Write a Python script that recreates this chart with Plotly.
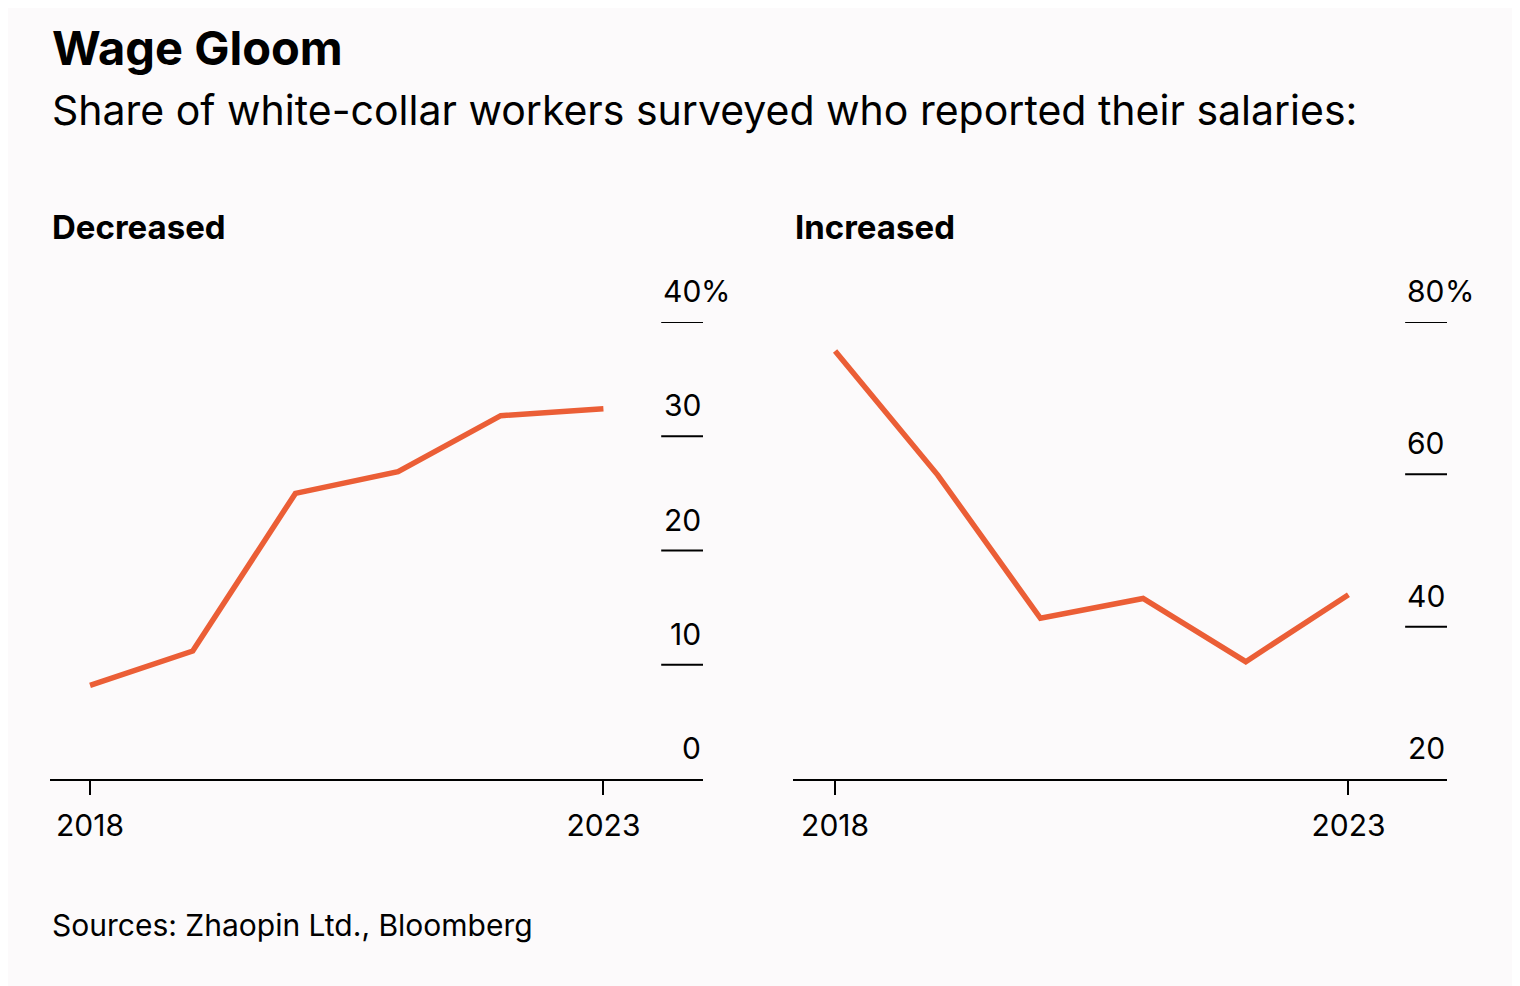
import plotly.graph_objects as go

years = [2018, 2019, 2020, 2021, 2022, 2023]
decreased = [8.2, 11.2, 25.0, 26.9, 31.8, 32.4]
increased = [76.2, 59.9, 41.1, 43.7, 35.4, 44.2]

dec_ticks = [0, 10, 20, 30, 40]
inc_ticks = [20, 40, 60, 80]
x_ticks = [2018, 2023]

title = "Wage Gloom"
subtitle = "Share of white-collar workers surveyed who reported their salaries:"
panel_titles = ["Decreased", "Increased"]
source = "Sources: Zhaopin Ltd., Bloomberg"

BG = "#FCFAFB"
LINE = "#EB5E36"
FONT = "Inter, Liberation Sans, Arial, sans-serif"

fig = go.Figure()
fig.add_trace(go.Scatter(x=years, y=decreased, mode="lines", xaxis="x", yaxis="y",
                         line=dict(color=LINE, width=5.5), cliponaxis=False, hoverinfo="skip"))
fig.add_trace(go.Scatter(x=years, y=increased, mode="lines", xaxis="x2", yaxis="y2",
                         line=dict(color=LINE, width=5.5), cliponaxis=False, hoverinfo="skip"))

# page has an 8px body margin, so the figure is drawn 8px smaller and offset
W, H = 1512, 978
ml, mr, mt, mb = 42, 73, 314, 207
pw = W - ml - mr
d1 = [0, (703 - 50) / pw]
d2 = [(793 - 50) / pw, 1]

xcommon = dict(range=[2017.61, 2023.97], tickvals=x_ticks, ticktext=[str(v) for v in x_ticks],
               ticks="outside", ticklen=14, tickwidth=2, tickcolor="#000", ticklabelstandoff=5,
               showline=True, linecolor="#000", linewidth=2, showgrid=False, zeroline=False,
               tickfont=dict(size=30, color="#000", family=FONT), fixedrange=True)
fig.update_layout(
    xaxis=dict(domain=d1, anchor="y", **xcommon),
    xaxis2=dict(domain=d2, anchor="y2", **{**xcommon, "range": [2017.59, 2023.96]}),
    yaxis=dict(domain=[0, 1], anchor="x", range=[0, 40], showticklabels=False, showgrid=False,
               zeroline=False, showline=False, fixedrange=True),
    yaxis2=dict(domain=[0, 1], anchor="x2", range=[20, 80], showticklabels=False, showgrid=False,
                zeroline=False, showline=False, fixedrange=True),
    width=W, height=H,
    margin=dict(l=ml, r=mr, t=mt, b=mb),
    paper_bgcolor=BG, plot_bgcolor=BG,
    showlegend=False,
    font=dict(family=FONT, color="#000"),
)

shapes = []
annotations = []
for xa, ya, ticks in [("x", "y", dec_ticks), ("x2", "y2", inc_ticks)]:
    lo = ticks[0]
    for i, t in enumerate(ticks):
        if t != lo:
            shapes.append(dict(type="line", xref=f"{xa} domain", yref=ya, x0=0.936, x1=1.0,
                               y0=t, y1=t, line=dict(color="#000", width=2)))
        annotations.append(dict(xref=f"{xa} domain", yref=ya, x=1.0, y=t, text=str(t),
                                xanchor="right", yanchor="middle", yshift=31, showarrow=False,
                                font=dict(size=30, family=FONT, color="#000")))
        if i == len(ticks) - 1:
            annotations.append(dict(xref=f"{xa} domain", yref=ya, x=1.0, y=t, text="%",
                                    xanchor="left", yanchor="middle", yshift=31, xshift=-4,
                                    showarrow=False, font=dict(size=30, family=FONT, color="#000")))

annotations += [
    dict(xref="paper", yref="paper", x=0, xanchor="left", y=1, yanchor="bottom", yshift=244,
         text=f"<b>{title}</b>", showarrow=False, font=dict(size=47, family=FONT, color="#000")),
    dict(xref="paper", yref="paper", x=0, xanchor="left", y=1, yanchor="bottom", yshift=185,
         text=subtitle, showarrow=False, font=dict(size=41, family=FONT, color="#000")),
    dict(xref="x domain", yref="paper", x=0, xanchor="left", y=1, yanchor="bottom", yshift=73,
         text=f"<b>{panel_titles[0]}</b>", showarrow=False, font=dict(size=33, family=FONT, color="#000")),
    dict(xref="x2 domain", yref="paper", x=0, xanchor="left", y=1, yanchor="bottom", yshift=73,
         text=f"<b>{panel_titles[1]}</b>", showarrow=False, font=dict(size=33, family=FONT, color="#000")),
    dict(xref="paper", yref="paper", x=0, xanchor="left", y=0, yanchor="bottom", yshift=-166,
         text=source, showarrow=False, font=dict(size=30, family=FONT, color="#000")),
]
fig.update_layout(shapes=shapes, annotations=annotations)

fig.write_html("out.html", config={"displayModeBar": False})
